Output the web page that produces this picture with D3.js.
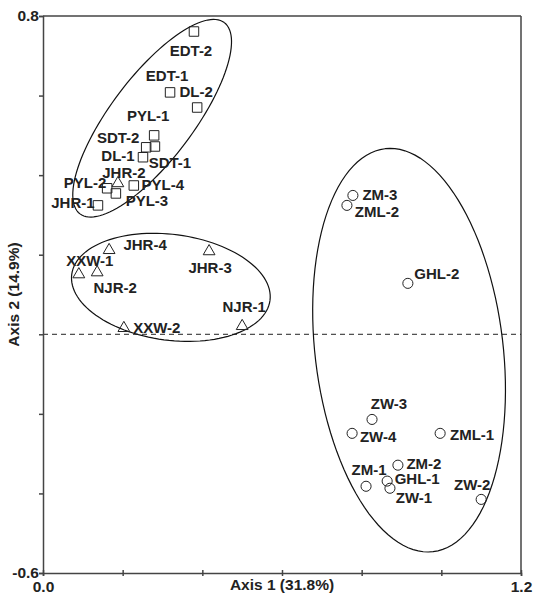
<!DOCTYPE html>
<html>
<head>
<meta charset="utf-8">
<script src="https://cdn.jsdelivr.net/npm/d3@7"></script>
<style>
  body { margin: 0; background: #fff; }
  svg text { font-family: "Liberation Sans", Arial, Helvetica, sans-serif; font-weight: bold; fill: #222; }
</style>
</head>
<body>
<svg id="chart" width="537" height="596"></svg>
<script>
// sample groups (PCoA scores)
var squareNames = ['EDT-2', 'EDT-1', 'DL-2', 'PYL-1', 'SDT-2', 'SDT-1', 'DL-1', 'PYL-2', 'PYL-3', 'PYL-4', 'JHR-1'];
var squareX = [0.379, 0.319, 0.387, 0.279, 0.259, 0.281, 0.251, 0.161, 0.183, 0.228, 0.138];
var squareY = [0.761, 0.608, 0.570, 0.500, 0.470, 0.472, 0.445, 0.367, 0.354, 0.374, 0.324];

var triangleNames = ['JHR-2', 'JHR-4', 'XXW-1', 'NJR-2', 'JHR-3', 'NJR-1', 'XXW-2'];
var triangleX = [0.188, 0.166, 0.090, 0.136, 0.417, 0.500, 0.203];
var triangleY = [0.382, 0.214, 0.153, 0.158, 0.211, 0.023, 0.018];

var circleNames = ['ZM-3', 'ZML-2', 'GHL-2', 'ZW-3', 'ZW-4', 'ZML-1', 'ZM-2', 'ZM-1', 'GHL-1', 'ZW-1', 'ZW-2'];
var circleX = [0.778, 0.763, 0.916, 0.826, 0.776, 0.997, 0.891, 0.811, 0.864, 0.871, 1.100];
var circleY = [0.349, 0.324, 0.128, -0.214, -0.249, -0.249, -0.329, -0.382, -0.369, -0.387, -0.415];

// group ellipses: centre, semi axes (axis units), angle of first axis (deg)
var ellipseCX = [0.274, 0.321, 0.919];
var ellipseCY = [0.543, 0.118, -0.040];
var ellipseA = [0.301, 0.251, 0.510];
var ellipseB = [0.104, 0.133, 0.236];
var ellipseAngle = [53, -7.5, 96.8];

var xTicks = [0, 0.2, 0.4, 0.6, 0.8, 1.0, 1.2];
var yTicks = [0.8, 0.6, 0.4, 0.2, 0, -0.2, -0.4, -0.6];
var xTickLabels = { 0: '0.0', 1.2: '1.2' };
var yTickLabels = { 0.8: '0.8', '-0.6': '-0.6' };
var xTitle = 'Axis 1 (31.8%)';
var yTitle = 'Axis 2 (14.9%)';

// label offsets from marker, px
var labelOffset = {
  'EDT-2': [-3, 19], 'EDT-1': [-3, -17], 'DL-2': [-1, -16], 'PYL-1': [-6, -20],
  'SDT-2': [-28, -10], 'SDT-1': [15, 16], 'DL-1': [-25, -2], 'JHR-2': [6, -10],
  'PYL-2': [-22, -6], 'PYL-4': [29, -1], 'JHR-1': [-25, -3], 'PYL-3': [31, 7],
  'JHR-4': [36, -5], 'XXW-1': [11, -13], 'NJR-2': [18, 16], 'JHR-3': [1, 17],
  'NJR-1': [2, -19], 'XXW-2': [33, 0],
  'ZM-3': [27, -1], 'ZML-2': [30, 6], 'GHL-2': [29, -10], 'ZW-3': [17, -16],
  'ZW-4': [26, 3], 'ZML-1': [32, 1], 'ZM-2': [26, -2], 'ZM-1': [3, -17],
  'GHL-1': [30, -2], 'ZW-1': [24, 9], 'ZW-2': [-9, -15]
};

var margin = { top: 16, right: 16, bottom: 23, left: 43 },
  width = 537 - margin.left - margin.right,
  height = 596 - margin.top - margin.bottom;

var svg = d3.select('#chart');
var g = svg.append('g').attr('transform', 'translate(' + margin.left + ',' + margin.top + ')');

var x = d3.scaleLinear().domain([0, 1.2]).range([0, width]);
var y = d3.scaleLinear().domain([-0.6, 0.8]).range([height, 0]);

var axisColor = '#444';

// frame top / right
g.append('line').attr('x1', 0).attr('x2', width).attr('y1', 0).attr('y2', 0)
  .attr('stroke', axisColor).attr('stroke-width', 1.5);
g.append('line').attr('x1', width).attr('x2', width).attr('y1', 0).attr('y2', height)
  .attr('stroke', axisColor).attr('stroke-width', 1.5);

// zero line
g.append('line')
  .attr('x1', 0).attr('x2', width)
  .attr('y1', y(0)).attr('y2', y(0))
  .attr('stroke', '#222').attr('stroke-width', 1)
  .attr('stroke-dasharray', '5,4');

// axes
var xAxis = d3.axisBottom(x).tickValues(xTicks).tickSize(3)
  .tickFormat(function (d) { return xTickLabels[d] || ''; });
var yAxis = d3.axisLeft(y).tickValues(yTicks).tickSize(4)
  .tickFormat(function (d) { return yTickLabels[d] || ''; });

var gx = g.append('g').attr('transform', 'translate(0,' + height + ')').call(xAxis);
gx.select('.domain').attr('stroke', axisColor).attr('stroke-width', 1.5);
gx.selectAll('.tick line').attr('stroke', axisColor).attr('stroke-width', 1.5).attr('y1', -3);
gx.selectAll('.tick text').attr('font-size', 15.5).attr('dy', '0.85em').attr('fill', '#222');

var gy = g.append('g').call(yAxis);
gy.select('.domain').attr('stroke', axisColor).attr('stroke-width', 1.5);
gy.selectAll('.tick line').attr('stroke', axisColor).attr('stroke-width', 1.5);
gy.selectAll('.tick text').attr('font-size', 15.5).attr('x', -4).attr('fill', '#222');

svg.selectAll('.tick text').style('font-weight', 'bold');

// axis titles
g.append('text').attr('x', width / 2).attr('y', height + 17)
  .attr('text-anchor', 'middle').attr('font-size', 15.5).text(xTitle);
g.append('text')
  .attr('transform', 'translate(' + (-24) + ',' + y(0.1) + ') rotate(-90)')
  .attr('text-anchor', 'middle').attr('font-size', 15.5).text(yTitle);

// ellipses
var ellipses = ellipseCX.map(function (cx, i) {
  var phi = ellipseAngle[i] * Math.PI / 180, pts = [];
  for (var k = 0; k <= 120; k++) {
    var t = k / 120 * 2 * Math.PI;
    var u = ellipseA[i] * Math.cos(t), v = ellipseB[i] * Math.sin(t);
    pts.push([cx + u * Math.cos(phi) - v * Math.sin(phi), ellipseCY[i] + u * Math.sin(phi) + v * Math.cos(phi)]);
  }
  return pts;
});
var ellipseLine = d3.line().x(function (d) { return x(d[0]); }).y(function (d) { return y(d[1]); });
g.selectAll('path.ellipse').data(ellipses).enter().append('path')
  .attr('class', 'ellipse')
  .attr('d', ellipseLine)
  .attr('fill', 'none').attr('stroke', '#111').attr('stroke-width', 1.2);

function zipGroup(names, xs, ys, shape) {
  return names.map(function (n, i) { return { name: n, x: xs[i], y: ys[i], shape: shape }; });
}
var points = zipGroup(squareNames, squareX, squareY, 'square')
  .concat(zipGroup(triangleNames, triangleX, triangleY, 'triangle'))
  .concat(zipGroup(circleNames, circleX, circleY, 'circle'));

var symbolType = { square: d3.symbolSquare, triangle: d3.symbolTriangle, circle: d3.symbolCircle };
var symbolSize = { square: 90, triangle: 60, circle: 80 };

g.selectAll('path.pt').data(points).enter().append('path')
  .attr('class', 'pt')
  .attr('transform', function (d) {
    var dy = d.shape === 'triangle' ? 1 : 0;
    return 'translate(' + x(d.x) + ',' + (y(d.y) + dy) + ')';
  })
  .attr('d', function (d) { return d3.symbol().type(symbolType[d.shape]).size(symbolSize[d.shape])(); })
  .attr('fill', 'none').attr('stroke', '#222').attr('stroke-width', 1);

g.selectAll('text.lbl').data(points).enter().append('text')
  .attr('class', 'lbl')
  .attr('x', function (d) { return x(d.x) + labelOffset[d.name][0]; })
  .attr('y', function (d) { return y(d.y) + labelOffset[d.name][1]; })
  .attr('dy', '0.36em')
  .attr('text-anchor', 'middle')
  .attr('font-size', 15)
  .text(function (d) { return d.name; });
</script>
</body>
</html>
